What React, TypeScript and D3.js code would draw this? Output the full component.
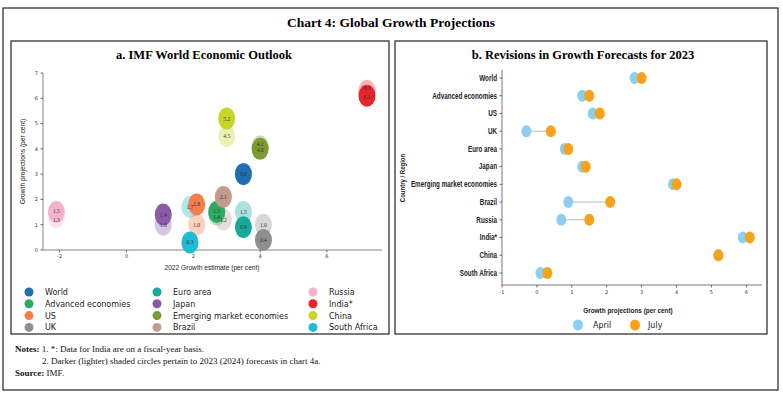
import React from 'react'
import * as d3 from 'd3'

// panel a: IMF WEO July 2023
const countries = ['World', 'Advanced economies', 'US', 'UK', 'Euro area', 'Japan', 'Emerging market economies', 'Brazil', 'Russia', 'India*', 'China', 'South Africa']
const est2022 = [3.5, 2.7, 2.1, 4.1, 3.5, 1.1, 4.0, 2.9, -2.1, 7.2, 3.0, 1.9]
const proj2023 = [3.0, 1.5, 1.8, 0.4, 0.9, 1.4, 4.0, 2.1, 1.5, 6.1, 5.2, 0.3]
const proj2024 = [3.0, 1.4, 1.0, 1.0, 1.5, 1.0, 4.1, 1.2, 1.3, 6.3, 4.5, 1.7]
const colors = ['#1f6fb4', '#2eaa62', '#f47d4a', '#8f8f8f', '#17a99b', '#8b5aa9', '#7d9a33', '#c29a8e', '#f5b3cb', '#e8232a', '#c6d62a', '#1ebbd2']
const legendOrder = [
  ['World', 'Advanced economies', 'US', 'UK'],
  ['Euro area', 'Japan', 'Emerging market economies', 'Brazil'],
  ['Russia', 'India*', 'China', 'South Africa'],
]
const xTicksA = [-2, 0, 2, 4, 6]
const yTicksA = [0, 1, 2, 3, 4, 5, 6, 7]

// panel b: April vs July 2023 forecasts for 2023
const regions = ['World', 'Advanced economies', 'US', 'UK', 'Euro area', 'Japan', 'Emerging market economies', 'Brazil', 'Russia', 'India*', 'China', 'South Africa']
const april = [2.8, 1.3, 1.6, -0.3, 0.8, 1.3, 3.9, 0.9, 0.7, 5.9, 5.2, 0.1]
const july = [3.0, 1.5, 1.8, 0.4, 0.9, 1.4, 4.0, 2.1, 1.5, 6.1, 5.2, 0.3]
const xTicksB = [-1, 0, 1, 2, 3, 4, 5, 6]

const serif = '"Liberation Serif", "DejaVu Serif", serif'
const sans = '"DejaVu Sans", sans-serif'
const arial = '"Liberation Sans", Arial, sans-serif'

const fmt = d3.format('.1f')

// no condensed font installed, so squeeze Liberation Sans horizontally
function Narrow({x, y, rotate = 0, anchor = 'start', size = 7.5, bold = false, sx = 0.8, children}: any) {
  return (
    <text
      transform={`translate(${x},${y}) rotate(${rotate}) scale(${sx},1)`}
      textAnchor={anchor}
      fontFamily={arial}
      fontWeight={bold ? 'bold' : 'normal'}
      fontSize={size}
      fill="#222"
    >
      {children}
    </text>
  )
}

function PanelA() {
  const x = d3.scaleLinear().domain([-2.5, 7.65]).range([43, 382])
  const y = d3.scaleLinear().domain([0, 7]).range([250, 73])
  const rx = 8.5
  const ry = 11
  const pts = countries.map((c, i) => ({c, i, x: est2022[i], a: proj2023[i], b: proj2024[i], col: colors[i]}))
  return (
    <g>
      <rect x={11} y={41} width={378} height={293} fill="none" stroke="#222" strokeWidth={1.2} />
      <text x={204} y={59} textAnchor="middle" fontFamily={serif} fontWeight="bold" fontSize={12.5}>
        a. IMF World Economic Outlook
      </text>
      <line x1={x.range()[0]} x2={x.range()[1]} y1={y(0)} y2={y(0)} stroke="#666" strokeWidth={0.8} />
      <line x1={x.range()[0]} x2={x.range()[0]} y1={y(0)} y2={y(7)} stroke="#666" strokeWidth={0.8} />
      {xTicksA.map((t) => (
        <g key={'xt' + t}>
          <line x1={x(t)} x2={x(t)} y1={y(0)} y2={y(0) + 2.5} stroke="#444" strokeWidth={0.8} />
          <text x={x(t)} y={y(0) + 8} textAnchor="middle" fontFamily={sans} fontSize={5} fill="#333">{t}</text>
        </g>
      ))}
      {yTicksA.map((t) => (
        <g key={'yt' + t}>
          <line x1={x.range()[0] - 2.5} x2={x.range()[0]} y1={y(t)} y2={y(t)} stroke="#444" strokeWidth={0.8} />
          <text x={x.range()[0] - 5} y={y(t) + 1.8} textAnchor="end" fontFamily={sans} fontSize={5} fill="#333">{t}</text>
        </g>
      ))}
      <Narrow x={212} y={270} anchor="middle" size={8} sx={0.83}>2022 Growth estimate (per cent)</Narrow>
      <Narrow x={25} y={y(3.5)} rotate={-90} anchor="middle" size={8} sx={0.83}>Growth projections (per cent)</Narrow>
      {/* lighter 2024 circles first, darker 2023 on top */}
      {pts.map((p) => (
        <ellipse key={'l' + p.c} cx={x(p.x)} cy={y(p.b)} rx={rx} ry={ry} fill={p.col} fillOpacity={0.35} />
      ))}
      {pts.map((p) => (
        <ellipse key={'d' + p.c} cx={x(p.x)} cy={y(p.a)} rx={rx} ry={ry} fill={p.col} />
      ))}
      {pts.map((p) => {
        const close = Math.abs(p.a - p.b) < 0.3 && p.a !== p.b
        const lb = close ? (p.b > p.a ? -2.5 : 2.5) : 0
        return (
          <g key={'t' + p.c} fontFamily={serif} fontSize={5.5} fill="#333" textAnchor="middle">
            {p.a !== p.b && <text x={x(p.x)} y={y(p.b) + 2 + lb}>{fmt(p.b)}</text>}
            <text x={x(p.x)} y={y(p.a) + 2 + (close ? -lb * 0.4 : 0)}>{fmt(p.a)}</text>
          </g>
        )
      })}
      {legendOrder.map((col, ci) =>
        col.map((name, ri) => {
          const lx = [29, 157, 313][ci]
          const ly = 292 + ri * 11.8
          return (
            <g key={name}>
              <circle cx={lx} cy={ly} r={4.5} fill={colors[countries.indexOf(name)]} />
              <text x={lx + 16} y={ly + 3} fontFamily={sans} fontSize={8} fill="#222">{name}</text>
            </g>
          )
        })
      )}
    </g>
  )
}

function PanelB() {
  const x = d3.scaleLinear().domain([-1, 6.45]).range([502, 762])
  const y = d3.scalePoint().domain(regions).range([78, 273])
  const rx = 5
  const ry = 6
  return (
    <g>
      <rect x={395} y={41} width={372} height={293} fill="none" stroke="#222" strokeWidth={1.2} />
      <text x={583} y={59} textAnchor="middle" fontFamily={serif} fontWeight="bold" fontSize={12.5}>
        b. Revisions in Growth Forecasts for 2023
      </text>
      <line x1={x.range()[0]} x2={x.range()[1]} y1={285} y2={285} stroke="#555" strokeWidth={0.8} />
      <line x1={x.range()[0]} x2={x.range()[0]} y1={70} y2={285} stroke="#555" strokeWidth={0.8} />
      {xTicksB.map((t) => (
        <g key={'bt' + t}>
          <line x1={x(t)} x2={x(t)} y1={285} y2={287.5} stroke="#444" strokeWidth={0.8} />
          <text x={x(t)} y={294} textAnchor="middle" fontFamily={sans} fontSize={5} fill="#333">{t}</text>
        </g>
      ))}
      {regions.map((r, i) => {
        const cy = y(r) as number
        return (
          <g key={r}>
            <line x1={x.range()[0] - 2.5} x2={x.range()[0]} y1={cy} y2={cy} stroke="#444" strokeWidth={0.8} />
            <Narrow x={497} y={cy + 2.8} anchor="end" size={8.3} bold sx={0.76}>{r}</Narrow>
            <line x1={x(april[i])} x2={x(july[i])} y1={cy} y2={cy} stroke="#aaa" strokeWidth={0.8} />
            <ellipse cx={x(april[i])} cy={cy} rx={rx} ry={ry} fill="#8dcff0" />
            <ellipse cx={x(july[i])} cy={cy} rx={rx} ry={ry} fill="#f7a21b" />
          </g>
        )
      })}
      <Narrow x={405} y={178} rotate={-90} anchor="middle" size={7.5} bold sx={0.8}>Country / Region</Narrow>
      <Narrow x={628} y={313} anchor="middle" size={8} bold sx={0.8}>Growth projections (per cent)</Narrow>
      <ellipse cx={578} cy={325} rx={5} ry={5.5} fill="#8dcff0" />
      <text x={593} y={328} fontFamily={sans} fontSize={8} fill="#222">April</text>
      <ellipse cx={635} cy={325} rx={5} ry={5.5} fill="#f7a21b" />
      <text x={648} y={328} fontFamily={sans} fontSize={8} fill="#222">July</text>
    </g>
  )
}

export default function App() {
  return (
    <svg width={783} height={395} style={{position: 'absolute', left: 0, top: 0, background: '#fff'}}>
      <rect x={3} y={8} width={775} height={382} fill="#fff" stroke="#222" strokeWidth={1.2} />
      <text x={391} y={27} textAnchor="middle" fontFamily={serif} fontWeight="bold" fontSize={13.5}>
        Chart 4: Global Growth Projections
      </text>
      <PanelA />
      <PanelB />
      <g fontFamily={serif} fontSize={9} fill="#111">
        <text x={15} y={352}>
          <tspan fontWeight="bold">Notes: </tspan>1. *: Data for India are on a fiscal-year basis.
        </text>
        <text x={42} y={364}>2. Darker (lighter) shaded circles pertain to 2023 (2024) forecasts in chart 4a.</text>
        <text x={15} y={376}>
          <tspan fontWeight="bold">Source: </tspan>IMF.
        </text>
      </g>
    </svg>
  )
}
